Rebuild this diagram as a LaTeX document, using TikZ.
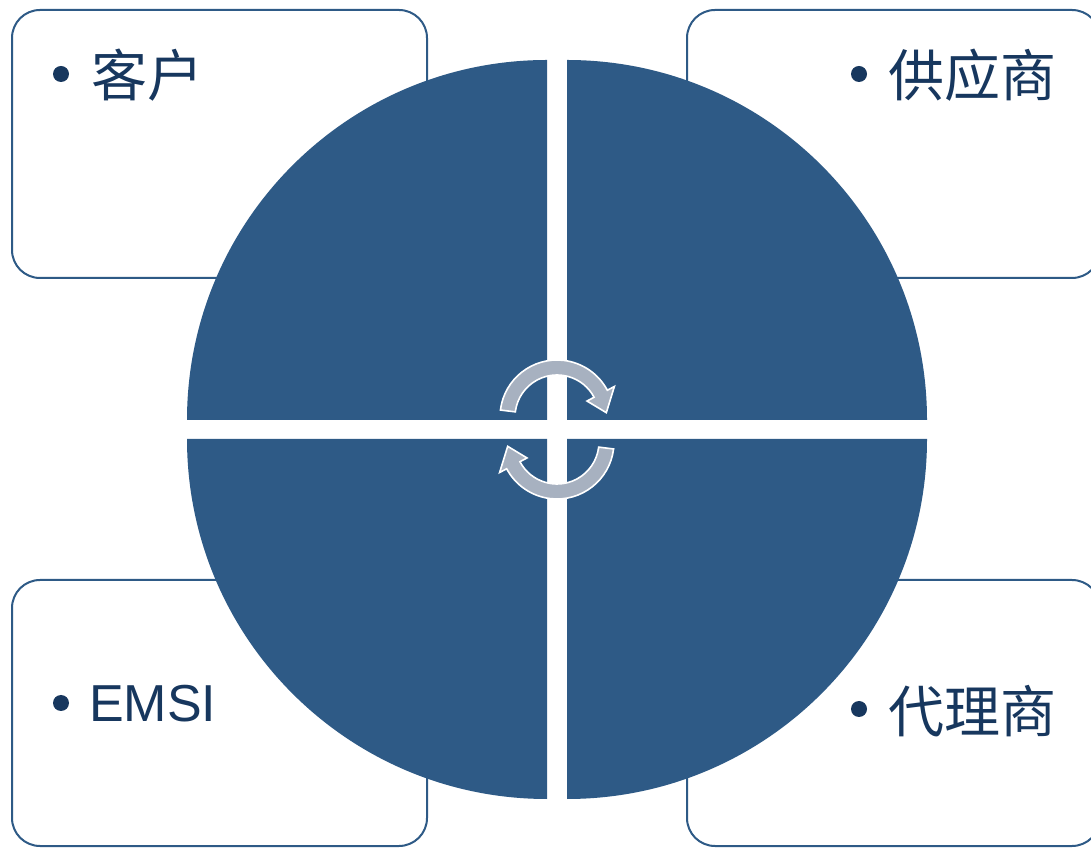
\documentclass[tikz,border=0pt]{standalone}
\usepackage{fontspec}
\setmainfont{Liberation Sans}
\newfontfamily\cjk{Noto Sans CJK SC}
\definecolor{quadblue}{RGB}{46,90,134}
\definecolor{txtblue}{RGB}{23,55,94}
\definecolor{arrowgray}{RGB}{167,177,192}
\tikzset{
  cardbox/.style={draw=quadblue, line width=2pt, fill=white, rounded corners=28pt},
  quad/.style={fill=quadblue},
  bulletdot/.style={circle, fill=txtblue, inner sep=0pt, minimum size=16pt},
  cjklabel/.style={anchor=west, inner sep=0pt, text=txtblue, font=\cjk\fontsize{56}{60}\selectfont},
  latlabel/.style={anchor=base west, inner sep=0pt, text=txtblue, font=\fontsize{52}{60}\selectfont},
  cyclearrow/.style={fill=arrowgray, draw=white, line width=1.6pt, line join=miter}
}
\begin{document}
\begin{tikzpicture}[x=1pt,y=1pt]
\useasboundingbox (0,0) rectangle (1091,848);
\clip (0,0) rectangle (1091,848);
% cards
\draw[cardbox] (12,838) rectangle (427,570);
\draw[cardbox] (687,838) rectangle (1100,570);
\draw[cardbox] (12,268) rectangle (427,2);
\draw[cardbox] (687,268) rectangle (1100,2);
% quadrants
\fill[quad] (547,428) -- ++(-360,0) arc[start angle=180, end angle=90, radius=360] -- cycle;
\fill[quad] (567,428) -- ++(0,360) arc[start angle=90, end angle=0, radius=360] -- cycle;
\fill[quad] (547,409) -- ++(0,-360) arc[start angle=270, end angle=180, radius=360] -- cycle;
\fill[quad] (567,409) -- ++(360,0) arc[start angle=0, end angle=-90, radius=360] -- cycle;
% cycle arrows
\begin{scope}[shift={(557,431)}]
\draw[cyclearrow] (173:57) arc[start angle=173, end angle=28, radius=57]
  -- (28:65) -- (5:49.5) -- (28:34) -- (28:42)
  arc[start angle=28, end angle=173, radius=42] -- cycle;
\end{scope}
\begin{scope}[shift={(557,406)}]
\draw[cyclearrow] (-7:57) arc[start angle=-7, end angle=-152, radius=57]
  -- (-152:65) -- (-175:49.5) -- (-152:34) -- (-152:42)
  arc[start angle=-152, end angle=-7, radius=42] -- cycle;
\end{scope}
% labels
\node[bulletdot] (b1) at (61,774) {};
\node[cjklabel] (kehu) at (91,773) {客户};
\node[bulletdot] (b2) at (859,774) {};
\node[cjklabel] (gys) at (888,773) {供应商};
\node[bulletdot] (b3) at (61,145) {};
\node[latlabel] (emsi) at (89,126) {EMSI};
\node[bulletdot] (b4) at (859,139) {};
\node[cjklabel] (dls) at (888,137) {代理商};
\end{tikzpicture}
\end{document}
